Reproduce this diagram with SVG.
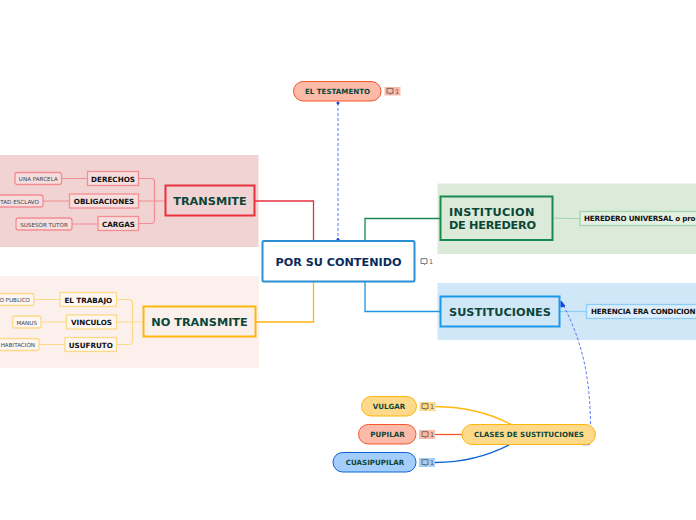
<svg xmlns="http://www.w3.org/2000/svg" width="696" height="520" viewBox="0 0 696 520">
<style>
text{font-family:"DejaVu Sans",Verdana,sans-serif;font-weight:bold;text-anchor:middle}
.c{fill:none}
.t1{font-size:11.3px;fill:#0b4638}
.t2{font-size:7.2px;fill:#111}
.t3{font-size:5.6px;font-weight:normal;fill:#444}
.e{text-anchor:end}
.t4{font-size:7.1px;fill:#0b4638}
.n{font-size:6.5px;font-weight:normal;fill:#555;text-anchor:start}
.r{stroke-width:1.300}
.p{fill:#f6dede;stroke:#f48d92}
.y{fill:#fdf6f1;stroke:#fed98a}
.i{fill:none;stroke:#555;stroke-width:.8}
</style>
<defs>
<g id="cm"><path class="i" d="M-6-2.800H0V2H-1.300L-2.600 3.200V2H-6Z"/><text class="n" x="2" y="2.400">1</text></g>
</defs>
<rect x="0" y="155" width="258.500" height="92" fill="#f2d3d3"/>
<rect x="0" y="276" width="259" height="92" fill="#fcf0ec"/>
<rect x="437.500" y="183.500" width="258.500" height="70.500" fill="#dcebd9"/>
<rect x="437.500" y="283" width="258.500" height="57" fill="#d0e7f8"/>
<g id="connectors" class="c">
<path d="M255 201H313.500V241" stroke="#e8313c" stroke-width="1.300"/>
<path d="M256 322H313.500V281" stroke="#ffb60f" stroke-width="1.300"/>
<path d="M365 241V218.500H440" stroke="#178a52" stroke-width="1.300"/>
<path d="M365 281V311.500H440" stroke="#2196e3" stroke-width="1.300"/>
<g stroke="#f48d92" stroke-width="1.200">
<path d="M139 178.500H151Q154.500 178.500 154.500 182V220Q154.500 223.500 151 223.500H139M139 201H165"/>
<path d="M62 178.500H87M43 201H69M72 224H98"/>
</g>
<g stroke="#fed98a" stroke-width="1.200">
<path d="M117 299.500H129Q132.500 299.500 132.500 303V341Q132.500 344.500 129 344.500H117M117 322H143"/>
<path d="M34 299.500H60M41 322H66M39 344.500H65"/>
</g>
<path d="M553 218C565 218.500 570 218.500 580 218.500" stroke="#a2d4ae" stroke-width="1.200"/>
<path d="M560 311.500H587" stroke="#8ecdf7" stroke-width="1.200"/>
<path d="M435 406.500C465 407 490 413 511 424.500" stroke="#ffb60f" stroke-width="1.300"/>
<path d="M435 434.500H462" stroke="#f4572a" stroke-width="1.300"/>
<path d="M435 462.500C465 462.500 490 455 511 444" stroke="#0f62d6" stroke-width="1.300"/>
<path d="M338 103V240" stroke="#4a68f5" stroke-width=".9" stroke-dasharray="3 2"/>
<circle cx="338" cy="103" r="1.500" fill="#1c3fe0"/>
<circle cx="338" cy="239.500" r="1.500" fill="#1c3fe0"/>
<path d="M590.500 424C590 385 585 345 562 303" stroke="#4a68f5" stroke-width=".9" stroke-dasharray="3 2"/>
<path d="M590 444.500L583 445" stroke="#4a68f5" stroke-width=".8"/>
<path d="M561 301L565 306L561 307Z" fill="#1c3fe0" stroke="#1c3fe0"/>
</g>
<g id="testamento">
<rect x="293.500" y="81.500" width="87.500" height="19.500" rx="9.700" fill="#fdbaa8" stroke="#f4572a"/>
<text class="t4" x="337.500" y="94">EL TESTAMENTO</text>
<rect x="384.500" y="87" width="16" height="8.500" fill="#fdbaa8"/>
<use href="#cm" x="393" y="91.200"/>
</g>
<g id="main">
<rect x="262.500" y="241" width="152" height="40.500" rx="1.500" fill="#fff" stroke="#2a8fd4" stroke-width="2"/>
<text x="338.500" y="265.500" font-size="11.200" fill="#0a2a5c">POR SU CONTENIDO</text>
<use href="#cm" x="427" y="261.500"/>
</g>
<g id="transmite">
<rect x="165.500" y="185.500" width="89" height="30" fill="#f2d3d3" stroke="#e8313c" stroke-width="2"/>
<text class="t1" x="210" y="205">TRANSMITE</text>
</g>
<g id="derechos"><rect class="r p" x="87.500" y="171.500" width="51" height="14"/><text class="t2" x="113" y="181.500">DERECHOS</text></g>
<g id="obligaciones"><rect class="r p" x="69.500" y="194" width="69" height="14"/><text class="t2" x="104" y="204">OBLIGACIONES</text></g>
<g id="cargas"><rect class="r p" x="98" y="216.500" width="40.500" height="14"/><text class="t2" x="118.500" y="226.500">CARGAS</text></g>
<g id="parcela"><rect class="r p" x="15" y="172.500" width="46.500" height="12" rx="2.500"/><text class="t3" x="38.300" y="181">UNA PARCELA</text></g>
<g id="esclavo"><rect class="r p" x="-12" y="195" width="55" height="12" rx="2.500"/><text class="t3 e" x="39" y="203.500">TAD ESCLAVO</text></g>
<g id="tutor"><rect class="r p" x="16" y="218" width="56" height="12" rx="2.500"/><text class="t3" x="44" y="226.500">SUSESOR TUTOR</text></g>
<g id="notransmite">
<rect x="143.500" y="306.500" width="112" height="30" fill="#fcf0ec" stroke="#ffb60f" stroke-width="2"/>
<text class="t1" x="199.500" y="326">NO TRANSMITE</text>
</g>
<g id="trabajo"><rect class="r y" x="60" y="292.500" width="56.500" height="14"/><text class="t2" x="88.300" y="302.500">EL TRABAJO</text></g>
<g id="vinculos"><rect class="r y" x="66.500" y="315" width="50" height="14"/><text class="t2" x="91.500" y="325">VINCULOS</text></g>
<g id="usufruto"><rect class="r y" x="65" y="337.500" width="51.500" height="14"/><text class="t2" x="90.800" y="347.500">USUFRUTO</text></g>
<g id="publico"><rect class="r y" x="-30" y="293.500" width="64" height="12" rx="2.500"/><text class="t3 e" x="30" y="302">O PUBLICO</text></g>
<g id="manus"><rect class="r y" x="12.500" y="316" width="28.500" height="12" rx="2.500"/><text class="t3" x="26.700" y="324.500">MANUS</text></g>
<g id="habitacion"><rect class="r y" x="-20" y="338.500" width="59" height="12" rx="2.500"/><text class="t3 e" x="35" y="347">HABITACION</text></g>
<g id="institucion">
<rect x="440.500" y="196.500" width="112" height="43.500" fill="#dcebd9" stroke="#178a52" stroke-width="2"/>
<text class="t1" x="449" y="216" style="text-anchor:start" textLength="85.500">INSTITUCION</text>
<text class="t1" x="449" y="229" style="text-anchor:start" textLength="87">DE HEREDERO</text>
</g>
<g id="universal"><rect class="r" x="580" y="211.500" width="130" height="14" fill="#e4f0e2" stroke="#a2d4ae"/><text class="t2" x="584" y="221" style="text-anchor:start" textLength="111.500">HEREDERO UNIVERSAL o pro</text></g>
<g id="sustituciones">
<rect x="440.500" y="296.500" width="119" height="30" fill="#d0e7f8" stroke="#1a98ea" stroke-width="2"/>
<text class="t1" x="500" y="315.500" textLength="102">SUSTITUCIONES</text>
</g>
<g id="herencia"><rect class="r" x="586.500" y="304.500" width="125" height="14" fill="#ddeefb" stroke="#8ecdf7"/><text class="t2" x="591" y="314" style="text-anchor:start" textLength="104.500">HERENCIA ERA CONDICION</text></g>
<g id="clases">
<rect x="462" y="424.500" width="133.500" height="20" rx="10" fill="#fed98a" stroke="#ffb60f"/>
<text class="t4" x="529" y="437">CLASES DE SUSTITUCIONES</text>
</g>
<g id="vulgar">
<rect x="361.500" y="396.500" width="55" height="19.500" rx="9.700" fill="#fed98a" stroke="#ffb60f"/>
<text class="t4" x="389" y="409">VULGAR</text>
<rect x="419.500" y="402" width="16" height="9" fill="#fed98a"/>
<use href="#cm" x="428" y="406.500"/>
</g>
<g id="pupilar">
<rect x="358.500" y="424.500" width="57.500" height="19.500" rx="9.700" fill="#fdbaa8" stroke="#f4572a"/>
<text class="t4" x="387.500" y="437">PUPILAR</text>
<rect x="419" y="430" width="16" height="9" fill="#fdbaa8"/>
<use href="#cm" x="428" y="434.500"/>
</g>
<g id="cuasipupilar">
<rect x="333" y="452.500" width="83" height="19.500" rx="9.700" fill="#a3cdfb" stroke="#0f62d6"/>
<text class="t4" x="375" y="465">CUASIPUPILAR</text>
<rect x="419" y="458" width="16" height="9" fill="#a3cdfb"/>
<use href="#cm" x="428" y="462.500"/>
</g>
</svg>
